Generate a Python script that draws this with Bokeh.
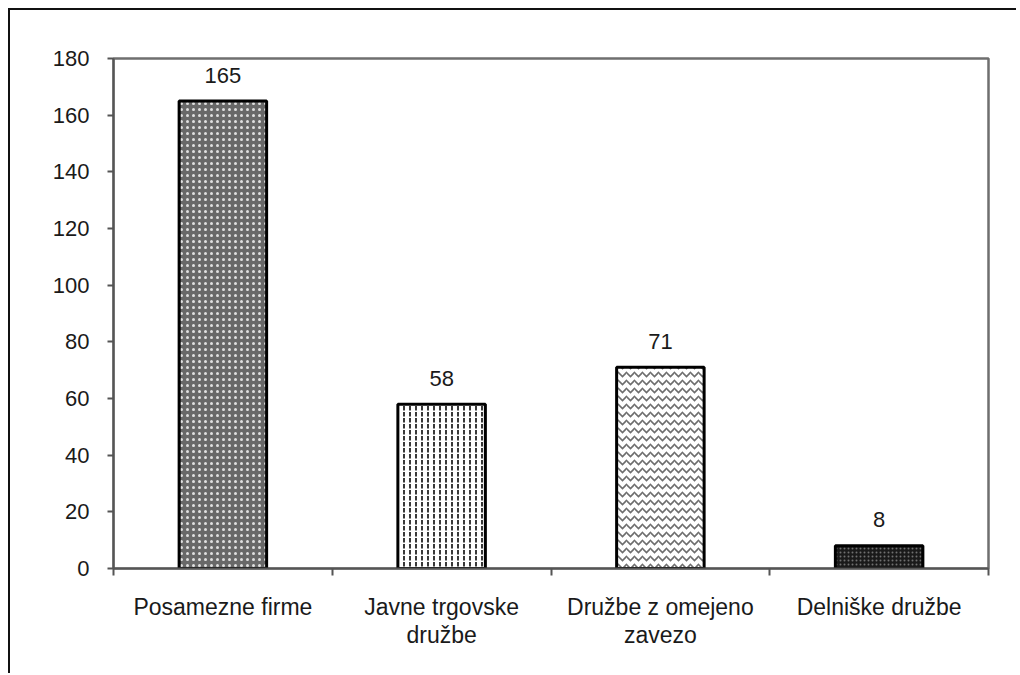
from bokeh.plotting import figure
from bokeh.models import FixedTicker, Range1d
from bokeh.core.properties import value
from bokeh.embed import file_html
from bokeh.resources import INLINE

categories = ["Posamezne firme", "Javne trgovske\ndružbe", "Družbe z omejeno\nzavezo", "Delniške družbe"]
counts = [165, 58, 71, 8]
y_ticks = [0, 20, 40, 60, 80, 100, 120, 140, 160, 180]

# styles (one per bar)
fills = ["#686868", "white", "white", "#1a1a1a"]
hatches = ["dot", "vertical_dash", "horizontal_wave", "dot"]
hatch_colors = ["#e0e0e0", "#222222", "#6e6e6e", "#707070"]
hatch_scales = [6, 6, 8, 4]
hatch_weights = [1.2, 1.8, 1.6, 1.2]

FONT = "Liberation Sans"
n = len(categories)
xs = [i + 0.5 for i in range(n)]

p = figure(width=1008, height=665, output_backend="svg", toolbar_location=None,
           x_range=Range1d(0, n), y_range=Range1d(0, 180),
           min_border_left=103, min_border_right=30, min_border_top=48, min_border_bottom=107)
p.styles = {"border-top": "2px solid #111", "border-left": "2px solid #111",
            "margin-left": "8px", "margin-top": "8px"}
p.xgrid.visible = False
p.ygrid.visible = False
p.outline_line_color = "#6f6f6f"
p.outline_line_width = 2.5
p.background_fill_color = "white"
p.border_fill_color = "white"

for i in range(n):
    p.vbar(x=[xs[i]], top=[counts[i]], width=0.4, bottom=0,
           fill_color=fills[i], hatch_pattern=hatches[i], hatch_color=hatch_colors[i],
           hatch_scale=hatch_scales[i], hatch_weight=hatch_weights[i],
           line_color="black", line_width=3)

p.text(x=xs, y=counts, text=[str(c) for c in counts], text_align="center", text_baseline="middle",
       y_offset=-26, text_font=value(FONT), text_font_size="22px", text_color="#1a1a1a")

# y axis
p.yaxis.ticker = FixedTicker(ticks=y_ticks)
p.yaxis.axis_line_color = "#555555"
p.yaxis.axis_line_width = 2
p.yaxis.major_tick_line_color = "#555555"
p.yaxis.major_tick_line_width = 2
p.yaxis.major_tick_out = 6
p.yaxis.major_tick_in = 0
p.yaxis.minor_tick_line_color = None
p.yaxis.major_label_text_font = FONT
p.yaxis.major_label_text_font_size = "22px"
p.yaxis.major_label_text_color = "#1a1a1a"
p.yaxis.major_label_standoff = 18

# x axis: labels at centers, ticks at boundaries
p.xaxis.ticker = FixedTicker(ticks=xs, minor_ticks=list(range(n + 1)))
p.xaxis.major_label_overrides = {x: c for x, c in zip(xs, categories)}
p.xaxis.axis_line_color = "#555555"
p.xaxis.axis_line_width = 2
p.xaxis.major_tick_line_color = None
p.xaxis.minor_tick_line_color = "#555555"
p.xaxis.minor_tick_line_width = 2
p.xaxis.minor_tick_out = 7
p.xaxis.minor_tick_in = 0
p.xaxis.major_label_text_font = FONT
p.xaxis.major_label_text_font_size = "23px"
p.xaxis.major_label_text_color = "#1a1a1a"
p.xaxis.major_label_text_line_height = 1.1
p.xaxis.major_label_standoff = 18

open("out.html", "w").write(file_html(p, INLINE))
